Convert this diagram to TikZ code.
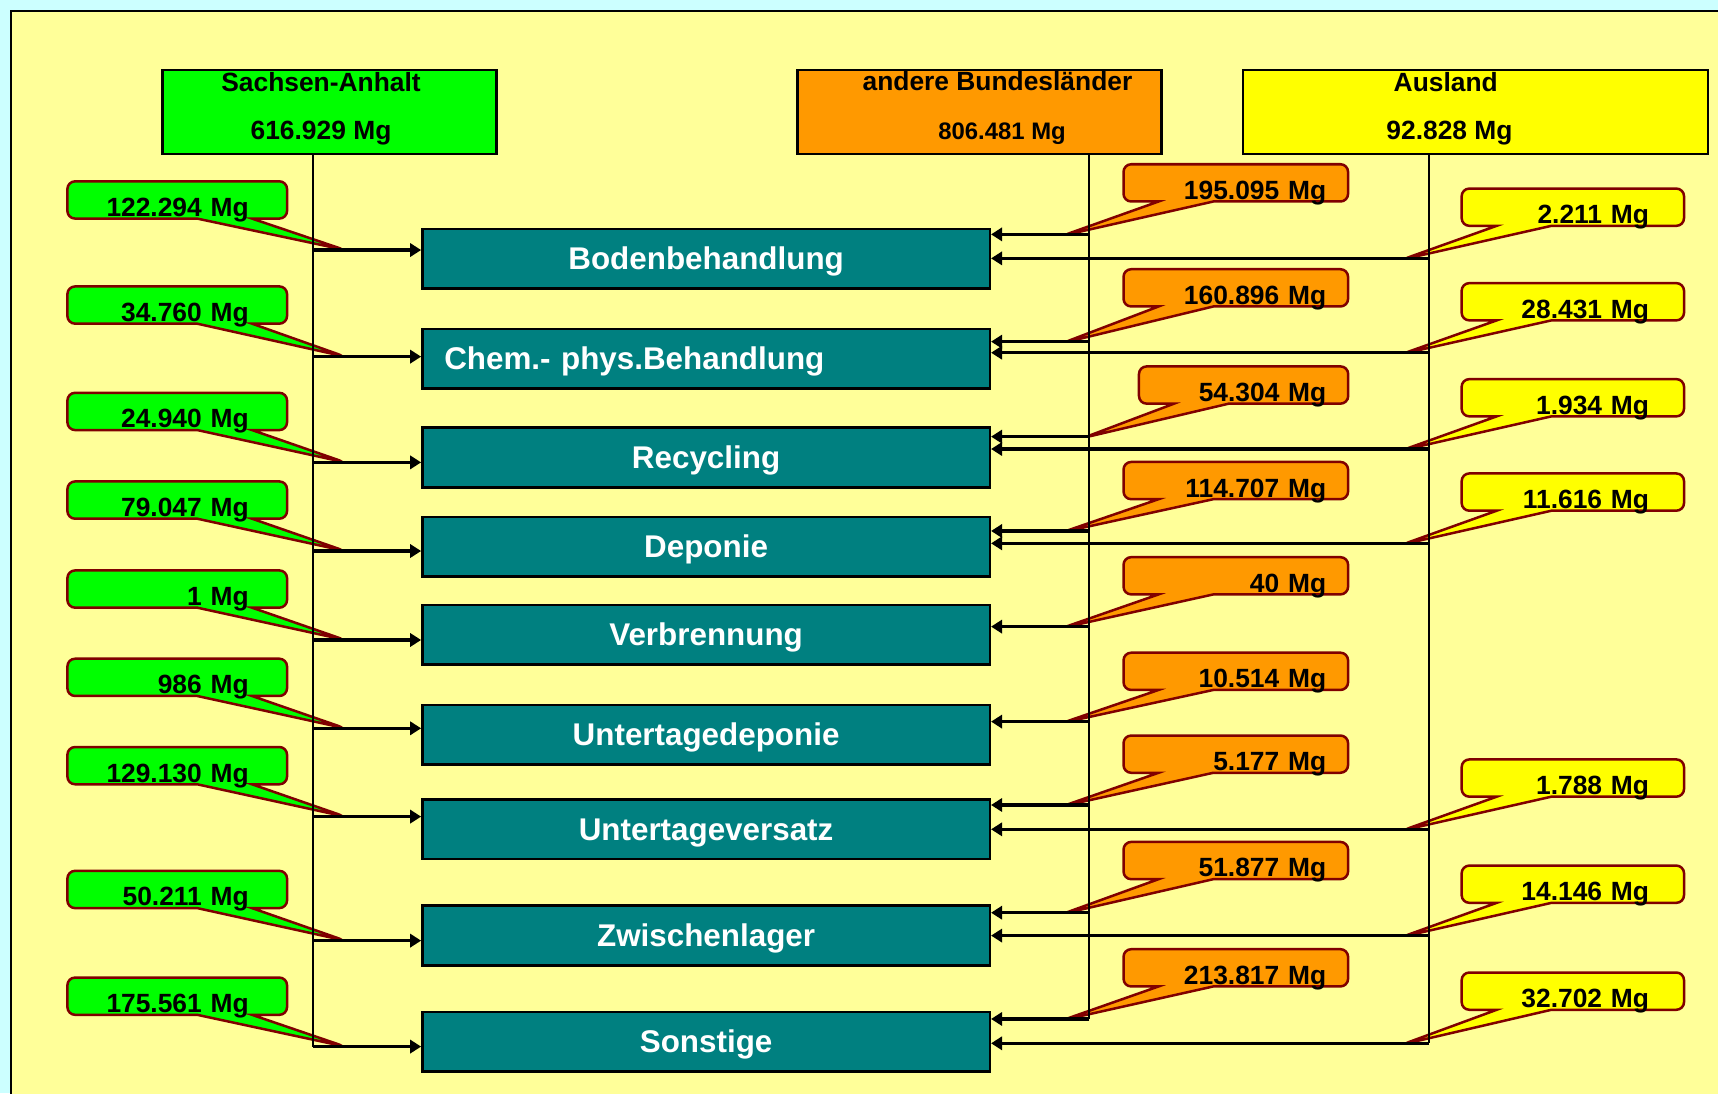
\documentclass[tikz,border=0pt]{standalone}
\usepackage{fontspec}
\setmainfont{Liberation Sans}
\usepackage{tikz}
\usetikzlibrary{arrows.meta,shapes.callouts}

\definecolor{framecyan}{HTML}{CCFFFF}
\definecolor{panelyellow}{HTML}{FFFF99}
\definecolor{sagreen}{HTML}{00FF00}
\definecolor{blorange}{HTML}{FF9900}
\definecolor{auyellow}{HTML}{FFFF00}
\definecolor{boxteal}{HTML}{008080}
\definecolor{calloutred}{HTML}{800000}

\begin{document}
\begin{tikzpicture}
[x=0.02cm, y=-0.02cm,
% STYLES
% The source style is used for the three boxes on top
source/.style={rectangle, draw, line width=1.3pt, minimum height=1.53cm, inner sep=0pt},
sourcetext/.style={anchor=base, inner sep=0pt, font=\bfseries\fontsize{13.7}{16}\selectfont},
% The process style is used for the treatment boxes
process/.style={rectangle, draw, line width=1.3pt, fill=boxteal, minimum width=10.36cm, minimum height=1.09cm, text=white, text height=0.41cm, text depth=0pt, font=\bfseries\fontsize{16.3}{19}\selectfont},
% The amount style is used for the callouts with the masses
amount/.style={rectangle callout, draw=calloutred, line width=1.3pt, rounded corners=0.14cm, callout pointer width=1cm, inner ysep=0pt, minimum height=0.68cm, text height=0.64cm, text depth=0.04cm, align=right, font=\bfseries\fontsize{13.7}{16}\selectfont},
sa-amount/.style={amount, fill=sagreen, inner xsep=0.7cm, text width=2.61cm},
bl-amount/.style={amount, fill=blorange, inner xsep=0.4cm, text width=3.3cm},
au-amount/.style={amount, fill=auyellow, inner xsep=0.64cm, text width=2.78cm},
feed/.style={line width=1pt},
flow/.style={-{Triangle[length=0.2cm,width=0.24cm]}, line width=1.6pt}]

% Background
\path[use as bounding box, fill=framecyan] (0,0) rectangle (1568,998);
\begin{scope}
\clip (0,0) rectangle (1568,998);
\draw[fill=panelyellow, line width=1.3pt] (10,10) rectangle (1600,1040);
\end{scope}

% Draw sources
\node[source, fill=sagreen, minimum width=6.09cm] (sachsen) at (300.7,102.2) {};
\node[source, fill=blorange, minimum width=6.65cm] (bundeslaender) at (894,102.2) {};
\node[source, fill=auyellow, minimum width=8.49cm] (ausland) at (1346.8,102.2) {};
\node[sourcetext] (sachsen-name) at (293,83.7) {Sachsen-Anhalt};
\node[sourcetext] (sachsen-sum) at (293,127.2) {616.929 Mg};
\node[sourcetext] (bundeslaender-name) at (910.4,82.7) {andere Bundesländer};
\node[sourcetext, font=\bfseries\fontsize{12.4}{15}\selectfont] (bundeslaender-sum) at (914.6,127.2) {806.481 Mg};
\node[sourcetext] (ausland-name) at (1319.5,83.5) {Ausland};
\node[sourcetext] (ausland-sum) at (1322.9,127.2) {92.828 Mg};

% Draw treatments
\node[process] (boden) at (644.45,236.05) {Bodenbehandlung};
\node[process, text width=9.56cm, align=left, inner xsep=0.4cm] (chemphys) at (644.45,327.35) {Chem.- phys.Behandlung};
\node[process] (recycling) at (644.45,417.55) {Recycling};
\node[process] (deponie) at (644.45,498.9) {Deponie};
\node[process] (verbrennung) at (644.45,579.2) {Verbrennung};
\node[process] (utdeponie) at (644.45,670.5) {Untertagedeponie};
\node[process] (utversatz) at (644.45,756.75) {Untertageversatz};
\node[process] (zwischenlager) at (644.45,853.8) {Zwischenlager};
\node[process] (sonstige) at (644.45,950.7) {Sonstige};

%%%%%%%%%%%%%%%
% Amounts from Sachsen-Anhalt
\node[sa-amount, callout absolute pointer={(315,228.2)}] (sa-boden) at (161.75,182.5) {122.294 Mg};
\node[sa-amount, callout absolute pointer={(315,325.5)}] (sa-chemphys) at (161.75,278.4) {34.760 Mg};
\node[sa-amount, callout absolute pointer={(315,422)}] (sa-recycling) at (161.75,375.5) {24.940 Mg};
\node[sa-amount, callout absolute pointer={(315,502.9)}] (sa-deponie) at (161.75,456.4) {79.047 Mg};
\node[sa-amount, callout absolute pointer={(315,584.1)}] (sa-verbrennung) at (161.75,537.6) {1 Mg};
\node[sa-amount, callout absolute pointer={(315,664.7)}] (sa-utdeponie) at (161.75,618.2) {986 Mg};
\node[sa-amount, callout absolute pointer={(315,745.3)}] (sa-utversatz) at (161.75,698.8) {129.130 Mg};
\node[sa-amount, callout absolute pointer={(315,858.5)}] (sa-zwischenlager) at (161.75,811.8) {50.211 Mg};
\node[sa-amount, callout absolute pointer={(315,955.2)}] (sa-sonstige) at (161.75,909.2) {175.561 Mg};

% Amounts from the other Laender
\node[bl-amount, callout absolute pointer={(970,215)}] (bl-boden) at (1127.9,166.9) {195.095 Mg};
\node[bl-amount, callout absolute pointer={(970,313)}] (bl-chemphys) at (1127.9,262.7) {160.896 Mg};
\node[bl-amount, text width=3.02cm, callout absolute pointer={(989,399.5)}] (bl-recycling) at (1135,351.4) {54.304 Mg};
\node[bl-amount, callout absolute pointer={(970,485.6)}] (bl-deponie) at (1127.9,438.6) {114.707 Mg};
\node[bl-amount, callout absolute pointer={(970,572.9)}] (bl-verbrennung) at (1127.9,525.5) {40 Mg};
\node[bl-amount, callout absolute pointer={(970,659.6)}] (bl-utdeponie) at (1127.9,612.7) {10.514 Mg};
\node[bl-amount, callout absolute pointer={(970,735.7)}] (bl-utversatz) at (1127.9,688.3) {5.177 Mg};
\node[bl-amount, callout absolute pointer={(970,834)}] (bl-zwischenlager) at (1127.9,785.4) {51.877 Mg};
\node[bl-amount, callout absolute pointer={(970,931)}] (bl-sonstige) at (1127.9,883.3) {213.817 Mg};

% Amounts from abroad
\node[au-amount, callout absolute pointer={(1280,236.8)}] (au-boden) at (1435.5,189.1) {2.211 Mg};
\node[au-amount, callout absolute pointer={(1280,322.9)}] (au-chemphys) at (1435.5,275.4) {28.431 Mg};
\node[au-amount, callout absolute pointer={(1280,410.8)}] (au-recycling) at (1435.5,363) {1.934 Mg};
\node[au-amount, callout absolute pointer={(1280,496.9)}] (au-deponie) at (1435.5,449.1) {11.616 Mg};
\node[au-amount, callout absolute pointer={(1280,757.9)}] (au-utversatz) at (1435.5,710.1) {1.788 Mg};
\node[au-amount, callout absolute pointer={(1280,854.9)}] (au-zwischenlager) at (1435.5,807) {14.146 Mg};
\node[au-amount, callout absolute pointer={(1280,953.2)}] (au-sonstige) at (1435.5,904.6) {32.702 Mg};
%%%%%%%%%%%%%%%

% Feed lines
\coordinate (sa-end) at (285.4,955.2);
\coordinate (bl-end) at (994.2,930);
\coordinate (au-end) at (1304.2,952.2);
\draw[feed] (sachsen.south -| sa-end) -- (sa-end);
\draw[feed] (bundeslaender.south -| bl-end) -- (bl-end);
\draw[feed] (ausland.south -| au-end) -- (au-end);

% Taps on the feed lines
\coordinate (sa-1) at (285.4,228.2);
\coordinate (sa-2) at (285.4,325.5);
\coordinate (sa-3) at (285.4,422);
\coordinate (sa-4) at (285.4,502.9);
\coordinate (sa-5) at (285.4,584.1);
\coordinate (sa-6) at (285.4,664.7);
\coordinate (sa-7) at (285.4,745.3);
\coordinate (sa-8) at (285.4,858.5);
\coordinate (sa-9) at (285.4,955.2);
\coordinate (bl-1) at (994.2,213.9);
\coordinate (bl-2) at (994.2,311.8);
\coordinate (bl-3) at (994.2,398.5);
\coordinate (bl-4) at (994.2,484.6);
\coordinate (bl-5) at (994.2,571.9);
\coordinate (bl-6) at (994.2,658.6);
\coordinate (bl-7) at (994.2,734.7);
\coordinate (bl-8) at (994.2,833);
\coordinate (bl-9) at (994.2,930);
\coordinate (au-1) at (1304.2,235.8);
\coordinate (au-2) at (1304.2,321.9);
\coordinate (au-3) at (1304.2,409.8);
\coordinate (au-4) at (1304.2,495.9);
\coordinate (au-7) at (1304.2,756.9);
\coordinate (au-8) at (1304.2,853.9);
\coordinate (au-9) at (1304.2,952.2);

% Draw the links between sources and treatments
\draw[flow] (sa-1) -- (sa-1 -| boden.west);
\draw[flow] (sa-2) -- (sa-2 -| chemphys.west);
\draw[flow] (sa-3) -- (sa-3 -| recycling.west);
\draw[flow] (sa-4) -- (sa-4 -| deponie.west);
\draw[flow] (sa-5) -- (sa-5 -| verbrennung.west);
\draw[flow] (sa-6) -- (sa-6 -| utdeponie.west);
\draw[flow] (sa-7) -- (sa-7 -| utversatz.west);
\draw[flow] (sa-8) -- (sa-8 -| zwischenlager.west);
\draw[flow] (sa-9) -- (sa-9 -| sonstige.west);

\draw[flow] (bl-1) -- (bl-1 -| boden.east);
\draw[flow] (bl-2) -- (bl-2 -| chemphys.east);
\draw[flow] (bl-3) -- (bl-3 -| recycling.east);
\draw[flow] (bl-4) -- (bl-4 -| deponie.east);
\draw[flow] (bl-5) -- (bl-5 -| verbrennung.east);
\draw[flow] (bl-6) -- (bl-6 -| utdeponie.east);
\draw[flow] (bl-7) -- (bl-7 -| utversatz.east);
\draw[flow] (bl-8) -- (bl-8 -| zwischenlager.east);
\draw[flow] (bl-9) -- (bl-9 -| sonstige.east);

\draw[flow] (au-1) -- (au-1 -| boden.east);
\draw[flow] (au-2) -- (au-2 -| chemphys.east);
\draw[flow] (au-3) -- (au-3 -| recycling.east);
\draw[flow] (au-4) -- (au-4 -| deponie.east);
\draw[flow] (au-7) -- (au-7 -| utversatz.east);
\draw[flow] (au-8) -- (au-8 -| zwischenlager.east);
\draw[flow] (au-9) -- (au-9 -| sonstige.east);

\end{tikzpicture}
\end{document}
